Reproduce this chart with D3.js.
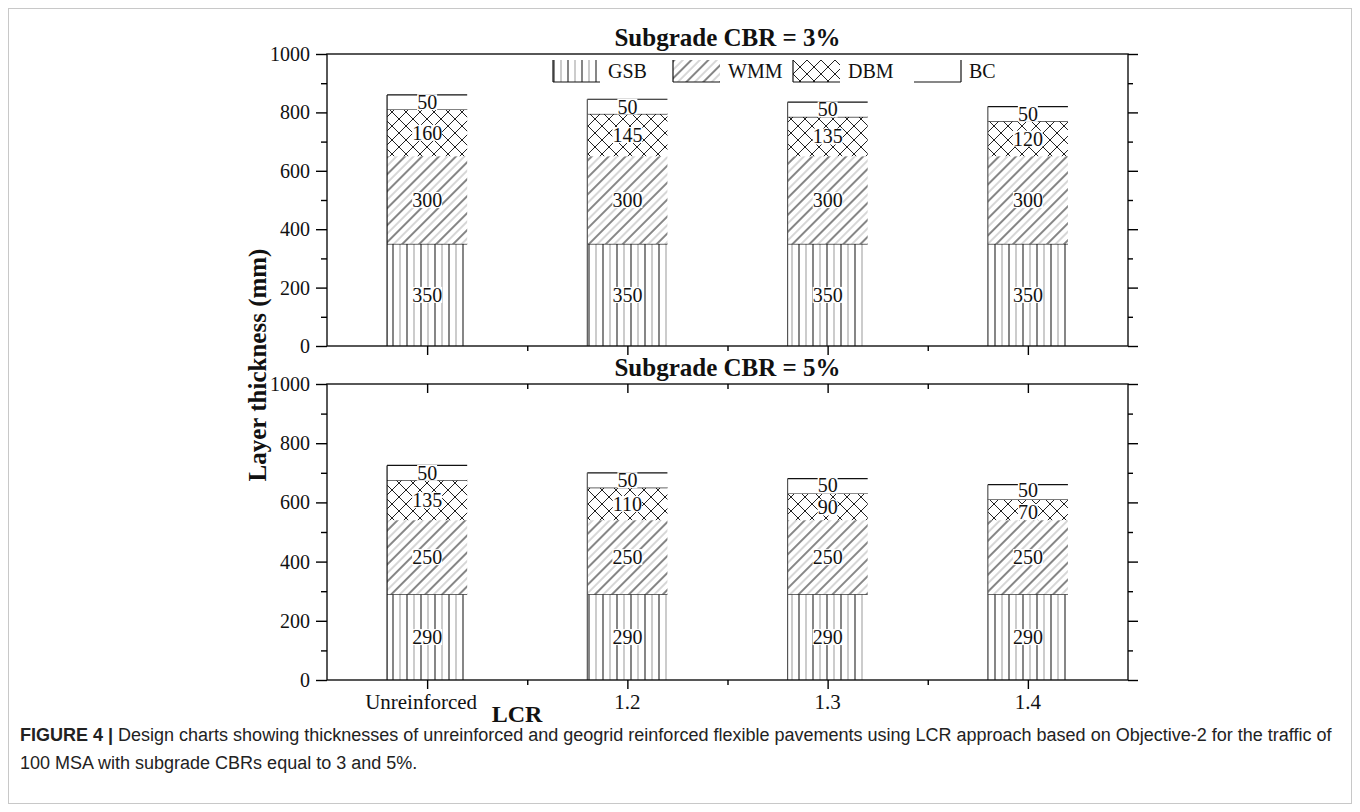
<!DOCTYPE html>
<html>
<head>
<meta charset="utf-8">
<script src="https://cdn.jsdelivr.net/npm/d3@7/dist/d3.min.js"></script>
<style>
  html, body { margin: 0; padding: 0; background: #fff; }
  svg { display: block; }
</style>
</head>
<body>
<svg id="chart" width="1360" height="812"></svg>
<script>
// ---------- data ----------
const categories = ["Unreinforced", "1.2", "1.3", "1.4"];
const layers = ["GSB", "WMM", "DBM", "BC"];
// Subgrade CBR = 3%
const gsb3 = [350, 350, 350, 350];
const wmm3 = [300, 300, 300, 300];
const dbm3 = [160, 145, 135, 120];
const bc3  = [50, 50, 50, 50];
// Subgrade CBR = 5%
const gsb5 = [290, 290, 290, 290];
const wmm5 = [250, 250, 250, 250];
const dbm5 = [135, 110, 90, 70];
const bc5  = [50, 50, 50, 50];
const yTicks = [0, 200, 400, 600, 800, 1000];
const panelTitles = ["Subgrade CBR = 3%", "Subgrade CBR = 5%"];

// ---------- layout ----------
const svg = d3.select("#chart");
const W = 1360, H = 812;
const left = 327, right = 1128;
const panels = [
  { top: 54, bottom: 346, title: panelTitles[0], series: [gsb3, wmm3, dbm3, bc3], topTicks: false, legend: true },
  { top: 384, bottom: 680, title: panelTitles[1], series: [gsb5, wmm5, dbm5, bc5], topTicks: true, legend: false }
];
const serif = "'Liberation Serif', 'Times New Roman', serif";

// outer figure border
svg.append("rect").attr("x", 8.5).attr("y", 8.5).attr("width", W - 17).attr("height", H - 17)
  .attr("fill", "none").attr("stroke", "#c8c8c8").attr("stroke-width", 1);

// ---------- patterns ----------
const defs = svg.append("defs");
const pG = defs.append("pattern").attr("id", "pat-GSB").attr("patternUnits", "userSpaceOnUse")
  .attr("width", 14).attr("height", 14);
pG.append("rect").attr("width", 14).attr("height", 14).attr("fill", "#fff");
pG.append("line").attr("x1", 1).attr("x2", 1).attr("y1", 0).attr("y2", 14).attr("stroke", "#222").attr("stroke-width", 1.1);
pG.append("line").attr("x1", 8).attr("x2", 8).attr("y1", 0).attr("y2", 14).attr("stroke", "#999").attr("stroke-width", 1);
const pW = defs.append("pattern").attr("id", "pat-WMM").attr("patternUnits", "userSpaceOnUse")
  .attr("width", 12).attr("height", 12).attr("patternTransform", "rotate(45)");
pW.append("rect").attr("width", 12).attr("height", 12).attr("fill", "#fff");
pW.append("line").attr("x1", 1).attr("x2", 1).attr("y1", 0).attr("y2", 12).attr("stroke", "#222").attr("stroke-width", 1.1);
pW.append("line").attr("x1", 7).attr("x2", 7).attr("y1", 0).attr("y2", 12).attr("stroke", "#b0b0b0").attr("stroke-width", 1);
const pD = defs.append("pattern").attr("id", "pat-DBM").attr("patternUnits", "userSpaceOnUse")
  .attr("width", 14).attr("height", 14);
pD.append("rect").attr("width", 14).attr("height", 14).attr("fill", "#fff");
pD.append("path").attr("d", "M0,0L14,14M14,0L0,14M-7,7L7,21M7,-7L21,7M21,7L7,21M7,-7L-7,7")
  .attr("stroke", "#222").attr("stroke-width", 1).attr("fill", "none");
const fillOf = l => l === "BC" ? "#fff" : `url(#pat-${l})`;

// ---------- scales ----------
const x = d3.scaleBand().domain(categories).range([left, right]).paddingInner(0.6).paddingOuter(0.3);
const step = x.step();
const centers = categories.map(c => x(c) + x.bandwidth() / 2);
const minorX = centers.slice(0, -1).map(c => c + step / 2);

panels.forEach((p, pi) => {
  const y = d3.scaleLinear().domain([0, 1000]).range([p.bottom, p.top]);
  const g = svg.append("g");

  const rows = categories.map((c, i) => {
    const o = { cat: c };
    layers.forEach((l, li) => o[l] = p.series[li][i]);
    return o;
  });
  const stacked = d3.stack().keys(layers)(rows);
  stacked.forEach(s => {
    const layer = s.key;
    const sg = g.append("g");
    sg.selectAll("rect").data(s).join("rect")
      .attr("x", d => x(d.data.cat))
      .attr("y", d => y(d[1]))
      .attr("width", x.bandwidth())
      .attr("height", d => y(d[0]) - y(d[1]))
      .attr("fill", fillOf(layer));
    if (layer !== "WMM") {
      sg.selectAll("line.top").data(s).join("line")
        .attr("x1", d => x(d.data.cat)).attr("x2", d => x(d.data.cat) + x.bandwidth())
        .attr("y1", d => y(d[1])).attr("y2", d => y(d[1]))
        .attr("stroke", "#111").attr("stroke-width", 1.2);
    }
  });
  g.selectAll("line.edge").data(rows).join("line")
    .attr("x1", d => x(d.cat)).attr("x2", d => x(d.cat))
    .attr("y1", y(0)).attr("y2", d => y(d3.sum(layers, l => d[l])))
    .attr("stroke", (d, i) => i === 0 ? "#111" : "#555").attr("stroke-width", 1.2);

  // value labels (centred in each segment; DBM/BC pair nudged apart when crowded)
  const minGap = 22;
  categories.forEach((c, ci) => {
    const mids = stacked.map(s => (y(s[ci][0]) + y(s[ci][1])) / 2);
    const iD = layers.indexOf("DBM"), iB = layers.indexOf("BC");
    const gap = mids[iD] - mids[iB];
    if (gap < minGap) {
      const shift = (minGap - gap) / 2;
      mids[iD] += shift; mids[iB] -= shift;
    }
    stacked.forEach((s, si) => {
      const d = s[ci];
      const cx = x(c) + x.bandwidth() / 2;
      const t = g.append("text").attr("x", cx).attr("y", mids[si]).attr("dy", "0.35em")
        .attr("text-anchor", "middle").attr("font-family", serif).attr("font-size", 20)
        .attr("fill", "#111").text(d.data[s.key]);
      const bb = t.node().getBBox();
      g.insert("rect", () => t.node()).attr("x", bb.x).attr("y", bb.y + 3).attr("width", bb.width).attr("height", bb.height - 6)
        .attr("fill", "#fff");
    });
  });

  // frame
  g.append("rect").attr("x", left).attr("y", p.top).attr("width", right - left).attr("height", p.bottom - p.top)
    .attr("fill", "none").attr("stroke", "#111").attr("stroke-width", 1.4);

  // left axis
  const yMinor = d3.range(100, 1000, 200);
  const la = g.append("g").attr("transform", `translate(${left},0)`)
    .call(d3.axisLeft(y).tickValues(yTicks).tickSize(11).tickPadding(6).tickFormat(d3.format("d")));
  la.select(".domain").remove();
  la.selectAll("text").attr("font-family", serif).attr("font-size", 20).attr("fill", "#111");
  la.selectAll("line").attr("stroke-width", 1.4);
  g.append("g").attr("transform", `translate(${left},0)`)
    .call(d3.axisLeft(y).tickValues(yMinor).tickSize(6).tickFormat(""))
    .call(a => a.select(".domain").remove()).selectAll("line").attr("stroke-width", 1.4);
  // right axis (inward)
  g.append("g").attr("transform", `translate(${right},0)`)
    .call(d3.axisLeft(y).tickValues(yTicks).tickSize(10).tickFormat(""))
    .call(a => a.select(".domain").remove()).selectAll("line").attr("stroke-width", 1.4)
    .attr("transform", "translate(10,0)").attr("x2", -10);
  g.append("g").attr("transform", `translate(${right},0)`)
    .call(d3.axisLeft(y).tickValues(yMinor).tickSize(5).tickFormat(""))
    .call(a => a.select(".domain").remove()).selectAll("line").attr("stroke-width", 1.4)
    .attr("transform", "translate(5,0)").attr("x2", -5);

  // bottom axis ticks (outward)
  const xc = d3.scaleLinear().domain([left, right]).range([left, right]);
  const ba = g.append("g").attr("transform", `translate(0,${p.bottom})`)
    .call(d3.axisBottom(xc).tickValues(centers).tickSize(9).tickFormat(""));
  ba.select(".domain").remove(); ba.selectAll("line").attr("stroke-width", 1.4);
  g.append("g").attr("transform", `translate(0,${p.bottom})`)
    .call(d3.axisBottom(xc).tickValues(minorX).tickSize(5).tickFormat(""))
    .call(a => a.select(".domain").remove()).selectAll("line").attr("stroke-width", 1.4);
  if (p.topTicks) {
    g.append("g").attr("transform", `translate(0,${p.top})`)
      .call(d3.axisBottom(xc).tickValues(centers).tickSize(9).tickFormat(""))
      .call(a => a.select(".domain").remove()).selectAll("line").attr("stroke-width", 1.4);
    g.append("g").attr("transform", `translate(0,${p.top})`)
      .call(d3.axisBottom(xc).tickValues(minorX).tickSize(5).tickFormat(""))
      .call(a => a.select(".domain").remove()).selectAll("line").attr("stroke-width", 1.4);
  }

  // title
  svg.append("text").attr("x", (left + right) / 2).attr("y", p.top - 8)
    .attr("text-anchor", "middle").attr("font-family", serif).attr("font-weight", "bold")
    .attr("font-size", 25).attr("fill", "#111").text(p.title);

  // legend
  if (p.legend) {
    const lx = [553, 673, 793, 914];
    const ly = 60, lh = 22, lw = 47;
    layers.forEach((l, i) => {
      const lg = svg.append("g").attr("transform", `translate(${lx[i]},${ly})`);
      lg.append("rect").attr("width", lw).attr("height", lh).attr("fill", fillOf(l));
      lg.append("line").attr("x1", 0).attr("x2", lw).attr("y1", lh).attr("y2", lh).attr("stroke", "#111").attr("stroke-width", 1.2);
      if (l === "BC") {
        lg.append("line").attr("x1", lw).attr("x2", lw).attr("y1", 0).attr("y2", lh).attr("stroke", "#111").attr("stroke-width", 1.2);
      } else {
        lg.append("line").attr("x1", 0).attr("x2", 0).attr("y1", 0).attr("y2", lh).attr("stroke", "#111").attr("stroke-width", 1.2);
      }
      lg.append("text").attr("x", lw + 8).attr("y", lh / 2).attr("dy", "0.35em")
        .attr("font-family", serif).attr("font-size", 20).attr("fill", "#111").text(l);
    });
  }

  if (pi === 1) {
    g.selectAll("text.cat").data(categories).join("text")
      .attr("x", (d, i) => centers[i] - (i === 0 ? 6 : 0)).attr("y", p.bottom + 29)
      .attr("text-anchor", "middle").attr("font-family", serif).attr("font-size", 21)
      .attr("fill", "#111").text(d => d);
  }
});

// axis titles
svg.append("text").attr("transform", `translate(266,365) rotate(-90)`)
  .attr("text-anchor", "middle").attr("font-family", serif).attr("font-weight", "bold")
  .attr("font-size", 25).attr("fill", "#111").text("Layer thickness (mm)");
svg.append("text").attr("x", 517).attr("y", 722)
  .attr("text-anchor", "middle").attr("font-family", serif).attr("font-weight", "bold")
  .attr("font-size", 24).attr("fill", "#111").text("LCR");

// caption
const sans = "'Liberation Sans', Arial, sans-serif";
const cap1 = svg.append("text").attr("x", 20).attr("y", 741).attr("font-family", sans).attr("font-size", 18).attr("fill", "#222");
cap1.append("tspan").attr("font-weight", "bold").text("FIGURE 4 | ");
cap1.append("tspan").text("Design charts showing thicknesses of unreinforced and geogrid reinforced flexible pavements using LCR approach based on Objective-2 for the traffic of");
svg.append("text").attr("x", 20).attr("y", 769).attr("font-family", sans).attr("font-size", 18).attr("fill", "#222")
  .text("100 MSA with subgrade CBRs equal to 3 and 5%.");
</script>
</body>
</html>
